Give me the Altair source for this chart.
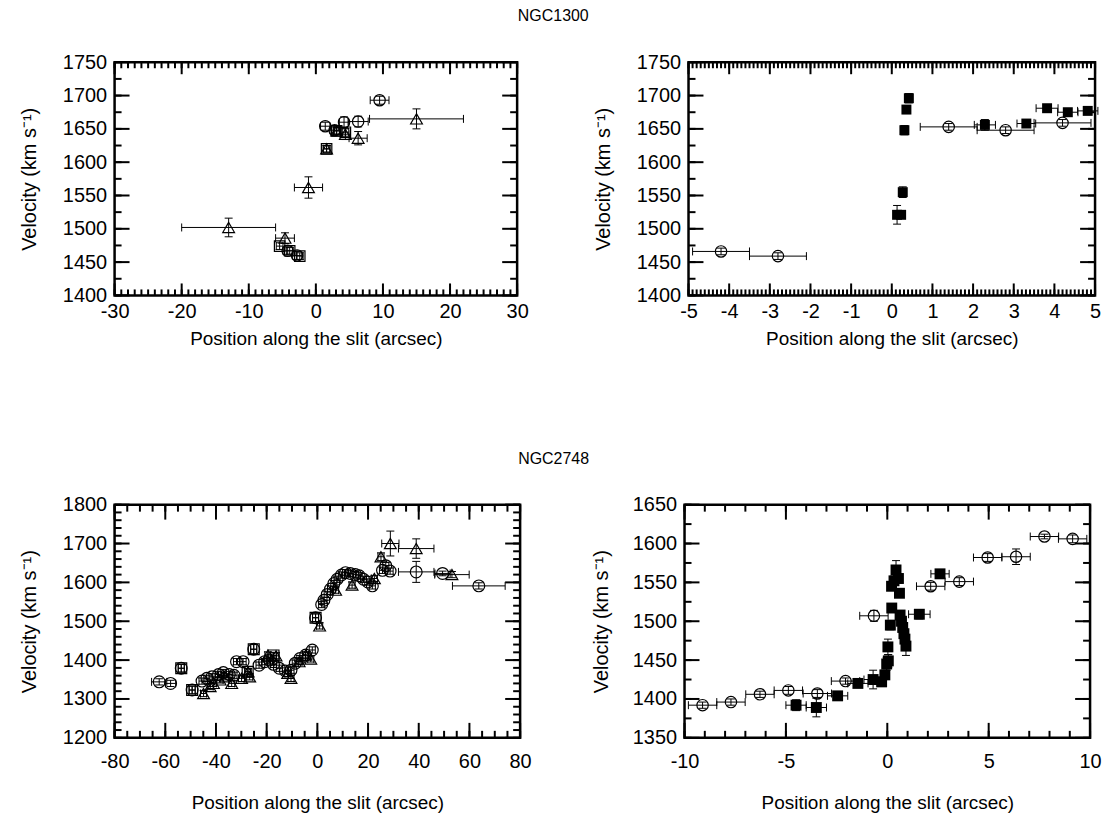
import altair as alt
import pandas as pd

FONT = "Liberation Sans"
XTITLE = "Position along the slit (arcsec)"
YTITLE = "Velocity (km s\u207b\u00b9)"

# ---------------- NGC1300, full slit ----------------
tl_circ_x = [-4.2, -2.8, 1.4, 2.8, 4.2, 6.3, 9.5]
tl_circ_y = [1467, 1460, 1654, 1648, 1660, 1661, 1693]
tl_circ_xe = [0.7, 0.7, 0.7, 0.7, 0.7, 1.5, 1.4]
tl_circ_ye = [6, 6, 6, 6, 8, 8, 6]

tl_sq_x = [-5.4, -3.9, -2.4, 1.6, 3.1, 4.4]
tl_sq_y = [1474, 1467, 1459, 1620, 1647, 1645]
tl_sq_xe = [0.5, 0.5, 0.5, 0.5, 0.5, 0.5]
tl_sq_ye = [5, 5, 5, 5, 5, 6]

tl_tri_x = [-13.0, -4.6, -1.1, 1.6, 3.1, 4.4, 6.3, 15.0]
tl_tri_y = [1502, 1486, 1562, 1620, 1647, 1642, 1636, 1665]
tl_tri_xe = [7.0, 1.4, 2.1, 0.5, 0.5, 0.7, 1.35, 7.0]
tl_tri_ye = [14, 8, 16, 5, 6, 8, 10, 15]

# ---------------- NGC1300, central region ----------------
tr_circ_x = [-4.2, -2.8, 1.4, 2.8, 4.2]
tr_circ_y = [1466, 1459, 1653, 1648, 1659]
tr_circ_xe = [0.7, 0.7, 0.7, 0.7, 0.7]
tr_circ_ye = [5, 5, 5, 5, 5]

tr_sq_x = [0.13, 0.23, 0.27, 0.31, 0.36, 0.42, 2.29, 3.31, 3.82, 4.33, 4.82]
tr_sq_y = [1521, 1521, 1555, 1648, 1679, 1696, 1656, 1658, 1681, 1675, 1677]
tr_sq_xe = [0.03, 0.03, 0.03, 0.03, 0.03, 0.03, 0.26, 0.23, 0.27, 0.25, 0.25]
tr_sq_ye = [14, 5, 8, 7, 6, 7, 8, 5, 5, 4, 5]

# ---------------- NGC2748, full slit ----------------
bl_circ_x = [-62.4, -57.9, -53.7, -49.4, -45.5, -43.6, -41.6, -39.0, -37.1, -34.7,
             -32.9, -31.9, -29.3, -25.1, -23.0, -20.8, -18.9, -17.3, -15.0, -12.6,
             -10.4, -8.7, -6.9, -4.6, -2.0, -0.7, 1.7, 2.6, 3.9, 5.2,
             6.5, 7.8, 9.5, 11.1, 13.0, 15.0, 16.5, 18.2, 19.9, 21.7,
             25.7, 27.0, 28.7, 39.0, 49.4, 63.7]
bl_circ_y = [1344, 1340, 1379, 1323, 1346, 1353, 1357, 1363, 1368, 1363,
             1361, 1396, 1396, 1428, 1387, 1396, 1400, 1389, 1379, 1372,
             1374, 1392, 1404, 1413, 1426, 1509, 1543, 1554, 1569, 1583,
             1597, 1608, 1619, 1625, 1623, 1620, 1617, 1608, 1601, 1591,
             1631, 1643, 1629, 1627, 1623, 1591]
bl_circ_xe = [3.0, 2.0, 1.2, 1.2, 1.2, 1.2, 1.2, 1.2, 1.2, 1.2,
              1.2, 1.2, 1.2, 1.2, 1.2, 1.2, 1.2, 1.2, 1.2, 1.2,
              1.2, 1.2, 1.2, 1.2, 1.2, 1.2, 1.2, 1.2, 1.2, 1.2,
              1.2, 1.2, 1.2, 1.2, 1.2, 1.2, 1.2, 1.2, 1.2, 1.2,
              1.2, 1.2, 1.2, 7.0, 3.0, 10.4]
bl_circ_ye = [8, 8, 10, 10, 8, 8, 8, 8, 8, 8,
              8, 8, 8, 12, 8, 8, 8, 8, 8, 8,
              8, 8, 8, 8, 8, 10, 8, 8, 8, 8,
              8, 8, 8, 8, 8, 8, 8, 8, 8, 8,
              8, 8, 8, 27, 6, 8]

bl_tri_x = [-44.9, -42.3, -41.0, -38.4, -36.4, -33.8, -29.9, -27.3, -26.7, -19.5,
            -16.3, -11.7, -10.4, -7.2, -4.6, -2.6, 0.9, 7.2, 13.7, 22.5,
            25.1, 28.8, 39.0, 53.1]
bl_tri_y = [1314, 1332, 1340, 1349, 1357, 1340, 1353, 1370, 1357, 1413,
            1411, 1366, 1353, 1396, 1413, 1403, 1488, 1580, 1593, 1610,
            1666, 1700, 1687, 1620]
bl_tri_xe = [1.2, 1.2, 1.2, 1.2, 1.2, 1.2, 1.2, 1.2, 1.2, 1.2,
             1.2, 1.2, 1.2, 1.2, 1.2, 1.2, 1.2, 1.2, 1.2, 1.2,
             1.2, 3.4, 7.0, 6.8]
bl_tri_ye = [8, 8, 8, 8, 8, 8, 8, 8, 8, 8,
             8, 8, 8, 8, 8, 8, 8, 8, 8, 8,
             10, 32, 25, 8]

bl_sq_x = [-53.7, -49.4, -27.5, -25.1, -17.3, -0.7]
bl_sq_y = [1379, 1323, 1370, 1428, 1412, 1509]
bl_sq_xe = [1.2, 1.2, 1.2, 1.2, 1.2, 1.2]
bl_sq_ye = [10, 10, 8, 12, 8, 10]

# ---------------- NGC2748, central region ----------------
br_circ_x = [-9.11, -7.71, -6.28, -4.88, -3.45, -2.06, -0.66, 2.14, 3.55, 4.95, 6.35, 7.75, 9.14]
br_circ_y = [1392, 1396, 1406, 1411, 1407, 1423, 1507, 1545, 1551, 1582, 1583, 1609, 1606]
br_circ_xe = [0.7, 0.7, 0.7, 0.7, 0.7, 0.7, 0.7, 0.7, 0.7, 0.7, 0.7, 0.7, 0.7]
br_circ_ye = [4, 4, 4, 5, 5, 4, 7, 5, 5, 5, 10, 3, 5]

br_sq_x = [-4.5, -3.5, -2.45, -1.45, -0.7, -0.28, -0.12, -0.03, 0.05, 0.03,
           0.15, 0.22, 0.21, 0.33, 0.43, 0.55, 0.6, 0.63, 0.7, 0.76,
           0.82, 0.87, 0.92, 1.58, 2.6]
br_sq_y = [1392, 1389, 1404, 1420, 1425, 1422, 1431, 1445, 1449, 1467,
           1495, 1517, 1545, 1552, 1566, 1555, 1536, 1508, 1500, 1492,
           1484, 1477, 1468, 1509, 1561]
br_sq_xe = [0.5, 0.5, 0.5, 0.5, 0.45, 0.1, 0.1, 0.1, 0.1, 0.1,
            0.1, 0.1, 0.1, 0.1, 0.1, 0.1, 0.1, 0.1, 0.1, 0.1,
            0.1, 0.1, 0.1, 0.53, 0.45]
br_sq_ye = [7, 12, 5, 5, 12, 6, 6, 8, 8, 10,
            6, 5, 5, 6, 12, 6, 5, 5, 5, 5,
            6, 6, 12, 6, 4]

# axis tick positions
tl_xmaj = [-30, -20, -10, 0, 10, 20, 30]
tr_xmaj = [-5, -4, -3, -2, -1, 0, 1, 2, 3, 4, 5]
n1300_ymaj = [1400, 1450, 1500, 1550, 1600, 1650, 1700, 1750]
bl_xmaj = [-80, -60, -40, -20, 0, 20, 40, 60, 80]
bl_ymaj = [1200, 1300, 1400, 1500, 1600, 1700, 1800]
br_xmaj = [-10, -5, 0, 5, 10]
br_ymaj = [1350, 1400, 1450, 1500, 1550, 1600, 1650]


def steps(lo, hi, step):
    n = int(round((hi - lo) / step))
    return [round(lo + i * step, 4) for i in range(n + 1)]


def errframe(x, y, xe, ye):
    return pd.DataFrame({
        "x": x, "y": y,
        "xlo": [a - b for a, b in zip(x, xe)],
        "xhi": [a + b for a, b in zip(x, xe)],
        "ylo": [a - b for a, b in zip(y, ye)],
        "yhi": [a + b for a, b in zip(y, ye)],
    })


def panel(series, xdom, ydom, xmaj, xminor, ymaj, yminor, w, h,
          xlabpad, xext, xtitlepad, ytitlepad, xtick=(12, 6), ytick=(15, 7)):
    xs = alt.Scale(domain=xdom, nice=False, zero=False)
    ys = alt.Scale(domain=ydom, nice=False, zero=False)
    xax = alt.Axis(values=xmaj, title=XTITLE, ticks=False, tickSize=0, domain=False,
                   grid=False, labelPadding=xlabpad, labelFontSize=20, titleFontSize=19,
                   labelFont=FONT, titleFont=FONT, titleFontWeight="normal",
                   labelColor="black", titleColor="black", format="d",
                   labelExpr="replace(datum.label, '\u2212', '-')",
                   labelFlush=False, labelOverlap=False,
                   minExtent=xext, maxExtent=xext, titlePadding=xtitlepad)
    yax = alt.Axis(values=ymaj, title=YTITLE, ticks=False, tickSize=0, domain=False,
                   grid=False, labelPadding=8, labelFontSize=20, titleFontSize=20,
                   labelFont=FONT, titleFont=FONT, titleFontWeight="normal",
                   labelColor="black", titleColor="black", format="d",
                   labelFlush=False, labelOverlap=False,
                   minExtent=68, maxExtent=68, titlePadding=ytitlepad)

    def X(f):
        return alt.X(f"{f}:Q", scale=xs, axis=xax)

    def Y(f):
        return alt.Y(f"{f}:Q", scale=ys, axis=yax)

    layers = []
    # error bars with end caps
    for df, _shape, _filled, _size in series:
        b = alt.Chart(df)
        bar = dict(color="black", strokeWidth=1)
        layers += [
            b.mark_rule(**bar).encode(x=X("xlo"), x2="xhi", y=Y("y")),
            b.mark_rule(yOffset=-4, y2Offset=4, **bar).encode(x=X("xlo"), y=Y("y"), y2="y"),
            b.mark_rule(yOffset=-4, y2Offset=4, **bar).encode(x=X("xhi"), y=Y("y"), y2="y"),
            b.mark_rule(**bar).encode(x=X("x"), y=Y("ylo"), y2="yhi"),
            b.mark_rule(xOffset=-4, x2Offset=4, **bar).encode(x=X("x"), x2="x", y=Y("ylo")),
            b.mark_rule(xOffset=-4, x2Offset=4, **bar).encode(x=X("x"), x2="x", y=Y("yhi")),
        ]
    # symbols
    for df, shape, filled, size in series:
        b = alt.Chart(df)
        if filled:
            m = b.mark_point(shape=shape, filled=True, color="black", size=size, opacity=1)
        else:
            m = b.mark_point(shape=shape, filled=False, stroke="black", strokeWidth=1.2,
                             size=size, opacity=1)
        layers.append(m.encode(x=X("x"), y=Y("y")))

    # inward ticks on all four sides
    tk = dict(color="black", strokeWidth=2)
    for vals, ln in ((xmaj, xtick[0]), (xminor, xtick[1])):
        t = alt.Chart(pd.DataFrame({"v": vals}))
        layers += [
            t.mark_rule(**tk).encode(x=X("v"), y=alt.value(h), y2=alt.value(h - ln)),
            t.mark_rule(**tk).encode(x=X("v"), y=alt.value(0), y2=alt.value(ln)),
        ]
    for vals, ln in ((ymaj, ytick[0]), (yminor, ytick[1])):
        t = alt.Chart(pd.DataFrame({"v": vals}))
        layers += [
            t.mark_rule(**tk).encode(y=Y("v"), x=alt.value(0), x2=alt.value(ln)),
            t.mark_rule(**tk).encode(y=Y("v"), x=alt.value(w), x2=alt.value(w - ln)),
        ]
    return alt.layer(*layers).properties(width=w, height=h)


CIRC, SQ, TRI = "circle", "square", "triangle-up"

tl = panel(
    [(errframe(tl_sq_x, tl_sq_y, tl_sq_xe, tl_sq_ye), SQ, False, 110),
     (errframe(tl_tri_x, tl_tri_y, tl_tri_xe, tl_tri_ye), TRI, False, 140),
     (errframe(tl_circ_x, tl_circ_y, tl_circ_xe, tl_circ_ye), CIRC, False, 130)],
    [-30, 30], [1400, 1750], tl_xmaj, steps(-30, 30, 1), n1300_ymaj, steps(1400, 1750, 25),
    404, 234, 6, 26, 8, 7)

tr = panel(
    [(errframe(tr_circ_x, tr_circ_y, tr_circ_xe, tr_circ_ye), CIRC, False, 130),
     (errframe(tr_sq_x, tr_sq_y, tr_sq_xe, tr_sq_ye), SQ, True, 100)],
    [-5, 5], [1400, 1750], tr_xmaj, steps(-5, 5, 0.1), n1300_ymaj, steps(1400, 1750, 25),
    408, 234, 6, 26, 8, 7)

bl = panel(
    [(errframe(bl_sq_x, bl_sq_y, bl_sq_xe, bl_sq_ye), SQ, False, 120),
     (errframe(bl_tri_x, bl_tri_y, bl_tri_xe, bl_tri_ye), TRI, False, 140),
     (errframe(bl_circ_x, bl_circ_y, bl_circ_xe, bl_circ_ye), CIRC, False, 140)],
    [-80, 80], [1200, 1800], bl_xmaj, steps(-80, 80, 5), bl_ymaj, steps(1200, 1800, 20),
    407, 234, 14, 35, 21, 7, xtick=(15, 7))

br = panel(
    [(errframe(br_circ_x, br_circ_y, br_circ_xe, br_circ_ye), CIRC, False, 130),
     (errframe(br_sq_x, br_sq_y, br_sq_xe, br_sq_ye), SQ, True, 120)],
    [-10, 10], [1350, 1650], br_xmaj, steps(-10, 10, 1), br_ymaj, steps(1350, 1650, 25),
    407, 234, 14, 35, 21, 5, xtick=(15, 7))


def row_title(text, dx):
    return alt.TitleParams(text, fontSize=16, font=FONT, fontWeight="normal",
                           anchor="middle", offset=27, dx=dx, color="black")


row1 = alt.hconcat(tl, tr, spacing=172, bounds="flush", title=row_title("NGC1300", -7))
row2 = alt.hconcat(bl, br, spacing=165, bounds="flush", title=row_title("NGC2748", -7))

chart = (
    alt.vconcat(row1, row2, spacing=100)
    .properties(padding={"left": 18, "top": 6, "right": 6, "bottom": 6})
    .configure(background="white", font=FONT)
    .configure_view(stroke="black", strokeWidth=2.5)
)

chart.save("out.html", embed_options={"renderer": "svg", "actions": False})
